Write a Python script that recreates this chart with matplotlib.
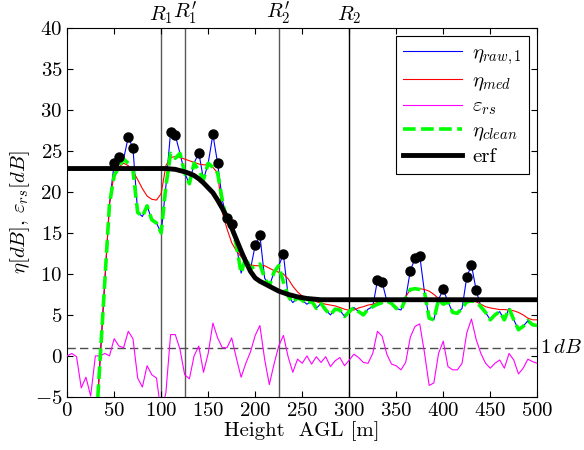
import numpy as np
import matplotlib
matplotlib.use("Agg")
import matplotlib.pyplot as plt
import matplotlib.transforms as mtransforms

# ── Data (5 m sampling) ───────────────────────────────────────────────────────
heights = np.arange(0, 505, 5)

eta_clean = [
    -5.3, -5.3, -15.0, -15.0, -15.0, -15.0, -10.0, -0.5, 9.0, 18.5,
    22.0, 23.0, 24.0, 23.5, 22.6, 17.5, 17.0, 18.3, 16.6, 16.2,
    15.0, 20.7, 24.7, 24.1, 24.7, 22.3, 21.0, 23.5, 22.6, 21.5,
    23.5, 23.0, 22.3, 19.0, 16.3, 15.8, 13.5, 10.1, 12.0, 10.6,
    11.0, 11.2, 9.5, 8.5, 10.2, 11.0, 9.0, 7.3, 6.5, 7.1,
    6.8, 6.3, 6.7, 5.8, 6.4, 5.6, 5.0, 5.7, 5.6, 4.8,
    5.4, 5.9, 5.4, 5.0, 5.7, 6.0, 6.3, 6.5, 6.7, 6.4,
    5.8, 5.6, 7.0, 8.1, 8.2, 8.1, 7.8, 4.6, 4.4, 6.9,
    6.3, 6.6, 5.3, 5.2, 5.8, 6.6, 6.7, 6.6, 6.0, 5.3,
    4.4, 5.0, 5.4, 4.4, 5.8, 4.4, 3.2, 3.6, 4.3, 3.8,
    3.7,
]

# raw profile differs from the clean one only at the spikes
spike_heights = [50, 55, 65, 70, 110, 115, 140, 155, 160, 170, 175,
                 200, 205, 230, 330, 335, 365, 370, 375, 400, 425, 430, 435]
spike_values = [23.5, 24.2, 26.7, 25.3, 27.3, 26.9, 24.8, 27.0, 23.5, 16.8, 16.1,
                13.5, 14.7, 12.4, 9.2, 9.0, 10.4, 11.9, 12.2, 8.1, 9.6, 11.1, 8.0]

eta_med = [
    -5.3, -5.3, -15.0, -15.0, -15.0, -15.0, -10.0, -0.5, 9.0, 18.5,
    22.3, 23.0, 23.5, 23.2, 22.5, 21.5, 20.4, 19.5, 19.1, 19.0,
    19.8, 23.2, 24.2, 24.3, 24.2, 24.0, 23.8, 23.6, 23.4, 23.3,
    23.3, 23.0, 22.3, 17.5, 15.5, 13.8, 12.8, 12.1, 11.5, 11.1,
    11.0, 11.0, 11.0, 10.7, 10.4, 10.2, 10.0, 9.4, 8.5, 7.8,
    7.3, 7.1, 6.9, 6.6, 6.45, 6.3, 6.2, 6.1, 5.9, 5.7,
    5.55, 5.6, 5.85, 6.0, 6.2, 6.3, 6.5, 6.6, 6.7, 6.7,
    6.7, 6.8, 7.2, 8.1, 8.2, 8.2, 8.1, 7.9, 7.5, 7.0,
    6.7, 6.6, 6.7, 6.8, 6.8, 6.8, 6.7, 6.6, 6.3, 6.0,
    5.85, 5.75, 5.65, 5.65, 5.6, 5.5, 5.3, 5.0, 4.6, 4.4,
    4.4,
]

eps_rs = [
    0.0, 0.3, -0.1, -3.9, -2.6, -4.9, 0.0, 0.0, 0.3, 0.0,
    2.1, 1.2, 1.0, 3.0, 2.1, -2.7, -3.8, -1.2, -2.3, -2.7,
    -7.0, -4.5, 2.6, 2.6, 0.8, -2.3, -2.8, 0.0, 1.2, -2.0,
    0.3, 4.0, 2.2, 1.0, 1.0, 2.2, -0.3, -2.6, -0.9, 0.5,
    2.5, 3.7, -0.4, -3.5, -1.0, 1.2, 2.5, -0.1, -2.0, -0.4,
    -0.9, 0.0, -1.0, -0.1, -0.8, -0.1, -1.3, -0.6, -0.2, -1.2,
    -0.5, 0.2, -0.2, -0.8, -0.9, 0.3, 3.0, 2.4, 0.2, -1.0,
    -1.2, -1.7, -0.8, 2.3, 3.6, 3.9, 0.4, -3.6, -3.3, 0.3,
    1.8, -1.3, -1.7, -1.7, -0.9, 2.8, 4.5, 2.0, 0.3, -0.9,
    -1.5, -0.9, -0.5, -1.5, 0.3, -0.5, -2.2, -1.5, -0.4, -0.7,
    -0.9,
]

erf_fit = [22.85] * 20 + [
    22.85, 22.85, 22.8, 22.75, 22.6, 22.45, 22.25, 22.0, 21.6, 21.1,
    20.5, 19.9, 19.0, 18.0, 16.9, 15.6, 14.2, 12.8, 11.5, 10.3,
    9.5, 9.1, 8.8, 8.5, 8.2, 7.9, 7.7, 7.5, 7.35, 7.2,
    7.1, 7.0, 6.95, 6.9,
] + [6.85] * 47

region_heights = [100, 125, 225, 300]
region_labels = [r"$R_1$", r"$R_1'$", r"$R_2'$", r"$R_2$"]
region_colors = ["0.35", "0.35", "0.35", "k"]
threshold = 1.0

# ── Build raw profile ─────────────────────────────────────────────────────────
eta_raw = np.array(eta_clean, dtype=float)
idx = np.searchsorted(heights, spike_heights)
eta_raw[idx] = spike_values

# ── Plot ──────────────────────────────────────────────────────────────────────
plt.rcParams["font.family"] = "serif"
plt.rcParams["font.serif"] = ["cmr10", "DejaVu Serif"]
plt.rcParams["mathtext.fontset"] = "cm"
plt.rcParams["axes.formatter.use_mathtext"] = True
plt.rcParams["font.size"] = 15

fig = plt.figure(figsize=(5.84, 4.5), dpi=100)
ax = fig.add_axes([0.115, 0.118, 0.805, 0.82])

for xr, col in zip(region_heights, region_colors):
    ax.axvline(xr, color=col, lw=1.0, zorder=1)
ax.axhline(threshold, color="0.3", lw=1.0, ls=(0, (6, 3)), zorder=1)

ax.plot(heights, eta_raw, color="blue", lw=0.8, label=r"$\eta_{raw,1}$", zorder=3)
ax.plot(heights, eta_med, color="red", lw=0.8, label=r"$\eta_{med}$", zorder=3)
ax.plot(heights, eps_rs, color="magenta", lw=0.8, label=r"$\varepsilon_{rs}$", zorder=3)
ax.plot(heights, eta_clean, color="#00ff00", lw=2.6, ls=(0, (3.5, 1.5)),
        label=r"$\eta_{clean}$", zorder=4)
ax.plot(heights, erf_fit, color="k", lw=3.5, label="erf", zorder=5)
ax.plot(spike_heights, spike_values, "o", color="k", ms=6.5, zorder=6)

ax.set_xlim(0, 500)
ax.set_ylim(-5, 40)
ax.set_xticks(np.arange(0, 501, 50))
ax.set_yticks(np.arange(-5, 41, 5))
ax.tick_params(direction="in", top=True, right=True, length=4, labelsize=15)
ax.set_xlabel("Height  AGL [m]", labelpad=1)
ax.set_ylabel(r"$\eta[dB]$, $\varepsilon_{rs}[dB]$", labelpad=2)

trans = mtransforms.blended_transform_factory(ax.transData, ax.transAxes)
for xr, lab in zip(region_heights, region_labels):
    ax.text(xr, 1.005, lab, transform=trans, ha="center", va="bottom", fontsize=15)

ax.text(503, threshold, r"$1\,dB$", ha="left", va="center", fontsize=15, clip_on=False)

leg = ax.legend(loc="upper right", fontsize=15, fancybox=False, framealpha=1,
                edgecolor="k", handlelength=2.8, handletextpad=0.5,
                labelspacing=0.22, borderpad=0.35, borderaxespad=0.4)
leg.get_frame().set_linewidth(0.8)

fig.savefig("out.png", dpi=100)
